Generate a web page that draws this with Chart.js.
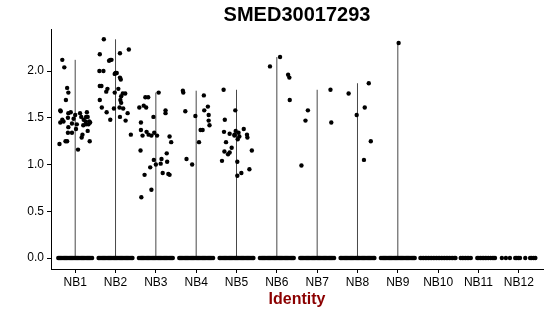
<!DOCTYPE html>
<html>
<head>
<meta charset="utf-8">
<script src="https://cdn.jsdelivr.net/npm/chart.js@4/dist/chart.umd.min.js"></script>
<style>
  html, body { margin: 0; padding: 0; background: #fff; }
  #wrap { width: 550px; height: 316px; }
</style>
</head>
<body>
<div id="wrap"><canvas id="vln"></canvas></div>
<script>
// 클러스터(identity) 이름
const categories = ['NB1', 'NB2', 'NB3', 'NB4', 'NB5', 'NB6', 'NB7', 'NB8', 'NB9', 'NB10', 'NB11', 'NB12'];
const yTicks = [0, 0.5, 1.0, 1.5, 2.0];
const chartTitle = 'SMED30017293';

// 발현값 > 0 인 세포: [jitter, 발현값]
const nb1 = [[-0.32,2.12],[-0.27,2.04],[-0.2,1.82],[-0.17,1.77],[-0.23,1.69],[-0.37,1.58],[-0.36,1.57],[-0.17,1.55],[-0.11,1.56],
  [-0.32,1.48],[-0.37,1.45],[-0.29,1.46],[-0.18,1.50],[-0.04,1.49],[0,1.53],[0.04,1.43],[-0.08,1.44],[-0.17,1.40],[-0.08,1.34],
  [-0.18,1.34],[-0.24,1.25],[-0.2,1.25],[-0.39,1.22],[0.02,1.38],[0.07,1.16],[0.12,1.55],[0.15,1.51],[0.18,1.32],[0.16,1.29],
  [0.2,1.42],[0.21,1.48],[0.27,1.43],[0.29,1.56],[0.27,1.51],[0.31,1.36],[0.35,1.46],[0.33,1.43],[0.37,1.45],[0.36,1.25],
  [0.26,1.46],[0.31,1.51]];
const nb2 = [[-0.29,2.34],[-0.39,2.18],[-0.13,2.12],[-0.1,2.12],[-0.16,2.11],[-0.4,2.00],[-0.3,2.00],[0.33,2.23],[0.11,2.19],
  [0,1.98],[0.03,1.98],[-0.02,1.97],[0.11,1.93],[0.13,1.91],[-0.39,1.84],[-0.35,1.84],[-0.2,1.81],[0.07,1.81],[-0.23,1.78],
  [-0.02,1.77],[0.18,1.76],[0.24,1.76],[0.14,1.73],[-0.39,1.69],[0.12,1.69],[-0.34,1.61],[-0.04,1.60],[0.14,1.66],[0.1,1.61],
  [0.19,1.60],[-0.22,1.56],[0.3,1.55],[0.11,1.51],[-0.13,1.48],[0.25,1.47],[0.38,1.32]];
const nb3 = [[-0.36,0.65],[-0.11,0.73],[-0.28,0.89],[-0.14,0.97],[-0.05,1.05],[0,1.00],[0.12,1.01],[0.14,1.06],[0.17,0.91],
  [0.31,0.90],[0.34,0.89],[0.28,1.03],[-0.38,1.15],[-0.41,1.61],[-0.3,1.63],[-0.26,1.72],[-0.19,1.72],[-0.24,1.61],[-0.37,1.45],
  [-0.37,1.37],[-0.33,1.31],[-0.23,1.35],[-0.18,1.32],[-0.11,1.31],[-0.06,1.51],[-0.04,1.34],[0.03,1.31],[0.07,1.77],[0.24,1.55],
  [0.24,1.58],[0.34,1.30],[0.38,1.24],[0.27,1.12]];
const nb4 = [[-0.33,1.79],[-0.32,1.77],[-0.27,1.57],[-0.24,1.06],[-0.1,1.00],[-0.02,1.52],[0.07,1.24],[0.11,1.37],[0.16,1.37],
  [0.19,1.74],[0.2,1.58],[0.29,1.62],[0.31,1.53],[0.31,1.47],[0.33,1.42]];
const nb5 = [[-0.32,1.80],[-0.29,1.48],[-0.31,1.35],[-0.26,1.24],[-0.36,1.04],[-0.3,1.14],[-0.21,1.11],[-0.17,1.13],[-0.12,1.18],
  [-0.17,1.33],[-0.03,1.58],[-0.05,1.32],[-0.02,1.36],[0.02,1.03],[0.02,0.88],[-0.05,1.31],[0.05,1.34],[0.07,1.30],[0.03,1.27],
  [0.18,1.38],[0.26,1.32],[0.27,1.29],[0.38,1.15],[0.12,0.91],[0.32,0.95]];
const nb6 = [[-0.17,2.05],[0.08,2.15],[0.28,1.96],[0.31,1.93],[0.32,1.69]];
const nb7 = [[-0.39,0.99],[-0.29,1.47],[-0.23,1.58],[0.33,1.80],[0.35,1.45]];
const nb8 = [[-0.22,1.76],[-0.02,1.53],[0.18,1.61],[0.28,1.87],[0.33,1.25],[0.16,1.05]];
const nb9 = [[0.02,2.30]];
const nb10 = [];
const nb11 = [];
const nb12 = [];
const expressed = [nb1, nb2, nb3, nb4, nb5, nb6, nb7, nb8, nb9, nb10, nb11, nb12];

// 발현값 = 0 인 세포의 jitter 위치 (그림에서 읽은 띠 모양)
const zeroDense = [-0.42,-0.39,-0.36,-0.33,-0.30,-0.27,-0.24,-0.21,-0.18,-0.15,-0.12,-0.09,-0.06,-0.03,0,
  0.03,0.06,0.09,0.12,0.15,0.18,0.21,0.24,0.27,0.30,0.33,0.36,0.39,0.42];
const zeroNb10 = [-0.44,-0.4,-0.36,-0.32,-0.28,-0.24,-0.2,-0.16,-0.12,-0.08,-0.04,0,0.04,0.08,0.12,0.16,0.2,0.24,0.28,0.32,0.36,0.4,0.43];
const zeroNb11 = [-0.44,-0.4,-0.36,-0.32,-0.28,-0.24,-0.19,-0.03,0.01,0.05,0.09,0.13,0.17,0.21,0.25,0.3,0.34,0.38,0.41];
const zeroNb12 = [-0.42,-0.32,-0.22,-0.09,-0.05,-0.01,0.03,0.16,0.28,0.32,0.37,0.41];
const zeroJitter = [zeroDense, zeroDense, zeroDense, zeroDense, zeroDense, zeroDense, zeroDense, zeroDense, zeroDense,
  zeroNb10, zeroNb11, zeroNb12];

// 바이올린 (세포 대부분이 0 이라 선처럼 보임)
const violinSets = [];
expressed.forEach((pts, i) => {
    if (!pts.length) return;
    const top = Math.max(...pts.map(p => p[1]));
    violinSets.push({
        type: 'line',
        data: [{ x: i + 1, y: 0 }, { x: i + 1, y: top }],
        borderColor: 'rgba(40,40,40,0.85)',
        borderWidth: 1,
        pointRadius: 0,
        order: 1
    });
});

// 지터 점
const jitterPoints = [];
categories.forEach((cat, i) => {
    zeroJitter[i].forEach(off => jitterPoints.push({ x: i + 1 + off, y: 0 }));
    expressed[i].forEach(p => jitterPoints.push({ x: i + 1 + p[0], y: p[1] }));
});

// 제목은 플롯 영역 가운데에 (ggplot 과 동일)
const panelTitle = {
    id: 'panelTitle',
    afterDraw(chart) {
        const { ctx, chartArea } = chart;
        ctx.save();
        ctx.font = 'bold 20px "Liberation Sans", Arial, sans-serif';
        ctx.fillStyle = '#000';
        ctx.textAlign = 'center';
        ctx.textBaseline = 'middle';
        ctx.fillText(chartTitle, (chartArea.left + chartArea.right) / 2, 15);
        ctx.restore();
    }
};

const tickFont = { family: 'Liberation Sans, Arial, sans-serif', size: 12 };

new Chart(document.getElementById('vln'), {
    type: 'scatter',
    data: {
        datasets: [
            ...violinSets,
            {
                data: jitterPoints,
                backgroundColor: '#000',
                borderWidth: 0,
                pointRadius: 2.2,
                order: 0
            }
        ]
    },
    plugins: [panelTitle],
    options: {
        responsive: true,
        maintainAspectRatio: false,
        animation: false,
        layout: { padding: { left: 0, right: 7, top: 29, bottom: 0 } },
        plugins: {
            legend: { display: false },
            tooltip: { enabled: false },
            title: { display: false }
        },
        scales: {
            x: {
                type: 'linear',
                min: 0.4,
                max: 12.6,
                afterBuildTicks: s => { s.ticks = categories.map((c, i) => ({ value: i + 1 })); },
                afterFit: s => { s.height = 47; },
                ticks: {
                    color: '#000',
                    font: tickFont,
                    padding: 2,
                    autoSkip: false,
                    maxRotation: 0,
                    callback: v => categories[v - 1]
                },
                grid: { drawOnChartArea: false, drawTicks: true, tickLength: 4, color: '#000' },
                border: { display: true, color: '#000', width: 1 },
                title: {
                    display: true,
                    text: 'Identity',
                    color: '#8b0000',
                    font: { family: 'Liberation Sans, Arial, sans-serif', size: 16, weight: 'bold' },
                    padding: { top: 0, bottom: 7 }
                }
            },
            y: {
                min: -0.117,
                max: 2.45,
                afterBuildTicks: s => { s.ticks = yTicks.map(v => ({ value: v })); },
                afterFit: s => { s.width = 51; },
                ticks: {
                    color: '#000',
                    font: tickFont,
                    padding: 3,
                    callback: v => v.toFixed(1)
                },
                grid: { drawOnChartArea: false, drawTicks: true, tickLength: 4, color: '#000' },
                border: { display: true, color: '#000', width: 1 }
            }
        }
    }
});
</script>
</body>
</html>
